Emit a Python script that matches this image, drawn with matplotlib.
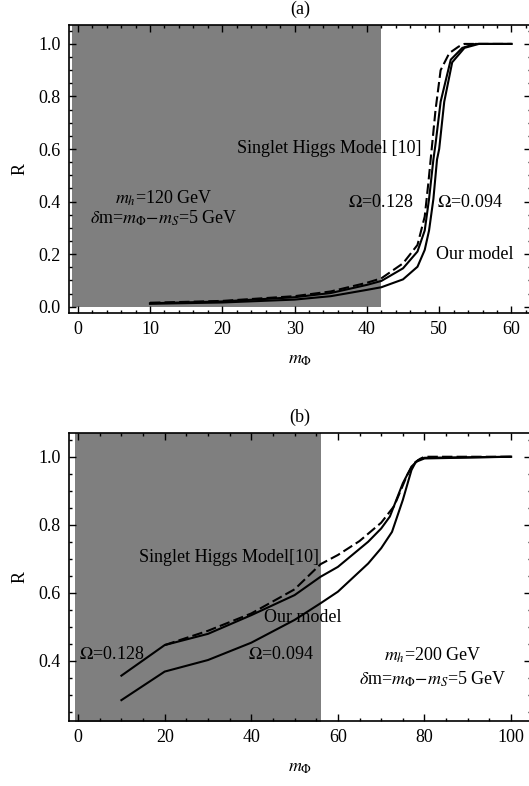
import matplotlib
matplotlib.use("Agg")
from matplotlib import pyplot as plt
from matplotlib.ticker import MultipleLocator

plt.rcParams["font.family"] = ["Liberation Serif", "DejaVu Serif"]
plt.rcParams["mathtext.fontset"] = "stix"
plt.rcParams["font.size"] = 13

# ---- panel (a): m_h = 120 GeV ----
a_singlet_x = [10, 20, 30, 35, 40, 42, 45, 47, 48, 48.5, 49, 49.5, 50.2, 51.4, 52.7, 53.5, 55, 60]
a_singlet_y = [0.015, 0.022, 0.040, 0.058, 0.091, 0.108, 0.165, 0.235, 0.343, 0.47, 0.61, 0.75, 0.90, 0.965, 0.99, 1.0, 1.0, 1.0]

a_o128_x = [10, 20, 30, 35, 40, 42, 45, 47, 48, 48.6, 49.2, 49.5, 50.2, 51.6, 53.2, 55, 60]
a_o128_y = [0.013, 0.020, 0.036, 0.052, 0.083, 0.098, 0.146, 0.21, 0.29, 0.41, 0.56, 0.62, 0.78, 0.94, 0.985, 1.0, 1.0]

a_o094_x = [10, 20, 30, 35, 40, 42, 45, 47, 48, 48.6, 49.2, 49.7, 50.0, 50.7, 51.8, 53.5, 55.5, 60]
a_o094_y = [0.011, 0.016, 0.027, 0.040, 0.064, 0.074, 0.104, 0.152, 0.216, 0.29, 0.41, 0.56, 0.60, 0.78, 0.93, 0.985, 1.0, 1.0]

a_excluded = (-0.8, 42)

# ---- panel (b): m_h = 200 GeV ----
b_singlet_x = [20, 30, 40, 50, 56, 60, 65, 70, 73, 76, 77.5, 79, 80, 100]
b_singlet_y = [0.446, 0.488, 0.539, 0.61, 0.684, 0.711, 0.752, 0.806, 0.855, 0.946, 0.98, 0.994, 1.0, 1.0]

b_o128_x = [10, 20, 30, 40, 50, 56, 60, 67, 70, 72, 75, 77, 78.5, 80, 100]
b_o128_y = [0.356, 0.446, 0.479, 0.534, 0.593, 0.647, 0.676, 0.75, 0.789, 0.824, 0.922, 0.971, 0.99, 0.997, 1.0]

b_o094_x = [10, 20, 30, 40, 50, 56, 60, 67, 70, 72.5, 75, 77, 78, 80, 100]
b_o094_y = [0.284, 0.368, 0.402, 0.453, 0.52, 0.569, 0.603, 0.686, 0.731, 0.779, 0.873, 0.961, 0.985, 0.995, 1.0]

b_excluded = (-0.6, 56.1)

W, H = 529, 786
fig = plt.figure(figsize=(W / 100, H / 100), dpi=100)


def make_axes(top_px, bottom_px):
    left = 69 / W
    right = 531 / W
    return fig.add_axes([left, 1 - bottom_px / H, right - left, (bottom_px - top_px) / H])


def style(ax, xmaj, xmin, ymaj, ymin):
    ax.xaxis.set_major_locator(MultipleLocator(xmaj))
    ax.xaxis.set_minor_locator(MultipleLocator(xmin))
    ax.yaxis.set_major_locator(MultipleLocator(ymaj))
    ax.yaxis.set_minor_locator(MultipleLocator(ymin))
    ax.yaxis.set_major_formatter(plt.FormatStrFormatter("%.1f"))
    ax.tick_params(which="both", direction="in", top=True, right=True, width=1.0)
    ax.tick_params(which="major", length=5, labelsize=13, pad=6)
    ax.tick_params(which="minor", length=2.5)
    for s in ax.spines.values():
        s.set_linewidth(1.2)
    ax.set_ylabel("R", fontsize=13, labelpad=7)
    ax.set_xlabel(r"$m_{\Phi}$", fontsize=13, labelpad=9)


lw = 1.5
dash = (5, 2)

# panel (a)
ax1 = make_axes(25, 313)
ax1.set_xlim(-1.2, 62.7)
ax1.set_ylim(-0.024, 1.072)
ax1.fill_between(a_excluded, 0, 1.2, color="#7f7f7f", lw=0, zorder=0)
ax1.plot(a_o128_x, a_o128_y, color="black", lw=lw)
ax1.plot(a_o094_x, a_o094_y, color="black", lw=lw)
ax1.plot(a_singlet_x, a_singlet_y, color="black", lw=lw, ls="--", dashes=dash)
style(ax1, 10, 2, 0.2, 0.05)
ax1.set_title("(a)", fontsize=13, pad=8)
ax1.text(34.8, 0.603, "Singlet Higgs Model [10]", ha="center", va="center")
ax1.text(11.9, 0.414, r"$m_h$=120 GeV", ha="center", va="center")
ax1.text(11.9, 0.338, r"$\delta$m=$m_{\Phi}{-}m_S$=5 GeV", ha="center", va="center")
ax1.text(41.9, 0.397, r"$\Omega$=0.128", ha="center", va="center")
ax1.text(54.3, 0.397, r"$\Omega$=0.094", ha="center", va="center")
ax1.text(54.9, 0.197, "Our model", ha="center", va="center")

# panel (b)
ax2 = make_axes(433.3, 720.7)
ax2.set_xlim(-2.1, 104.6)
ax2.set_ylim(0.2235, 1.069)
ax2.fill_between(b_excluded, 0, 1.2, color="#7f7f7f", lw=0, zorder=0)
ax2.plot(b_o128_x, b_o128_y, color="black", lw=lw)
ax2.plot(b_o094_x, b_o094_y, color="black", lw=lw)
ax2.plot(b_singlet_x, b_singlet_y, color="black", lw=lw, ls="--", dashes=dash)
style(ax2, 20, 5, 0.2, 0.05)
ax2.set_title("(b)", fontsize=13, pad=8)
ax2.text(34.8, 0.704, "Singlet Higgs Model[10]", ha="center", va="center")
ax2.text(52.0, 0.528, "Our model", ha="center", va="center")
ax2.text(7.8, 0.417, r"$\Omega$=0.128", ha="center", va="center")
ax2.text(46.8, 0.417, r"$\Omega$=0.094", ha="center", va="center")
ax2.text(81.9, 0.416, r"$m_h$=200 GeV", ha="center", va="center")
ax2.text(81.9, 0.344, r"$\delta$m=$m_{\Phi}{-}m_S$=5 GeV", ha="center", va="center")

fig.savefig("out.png", dpi=100)
